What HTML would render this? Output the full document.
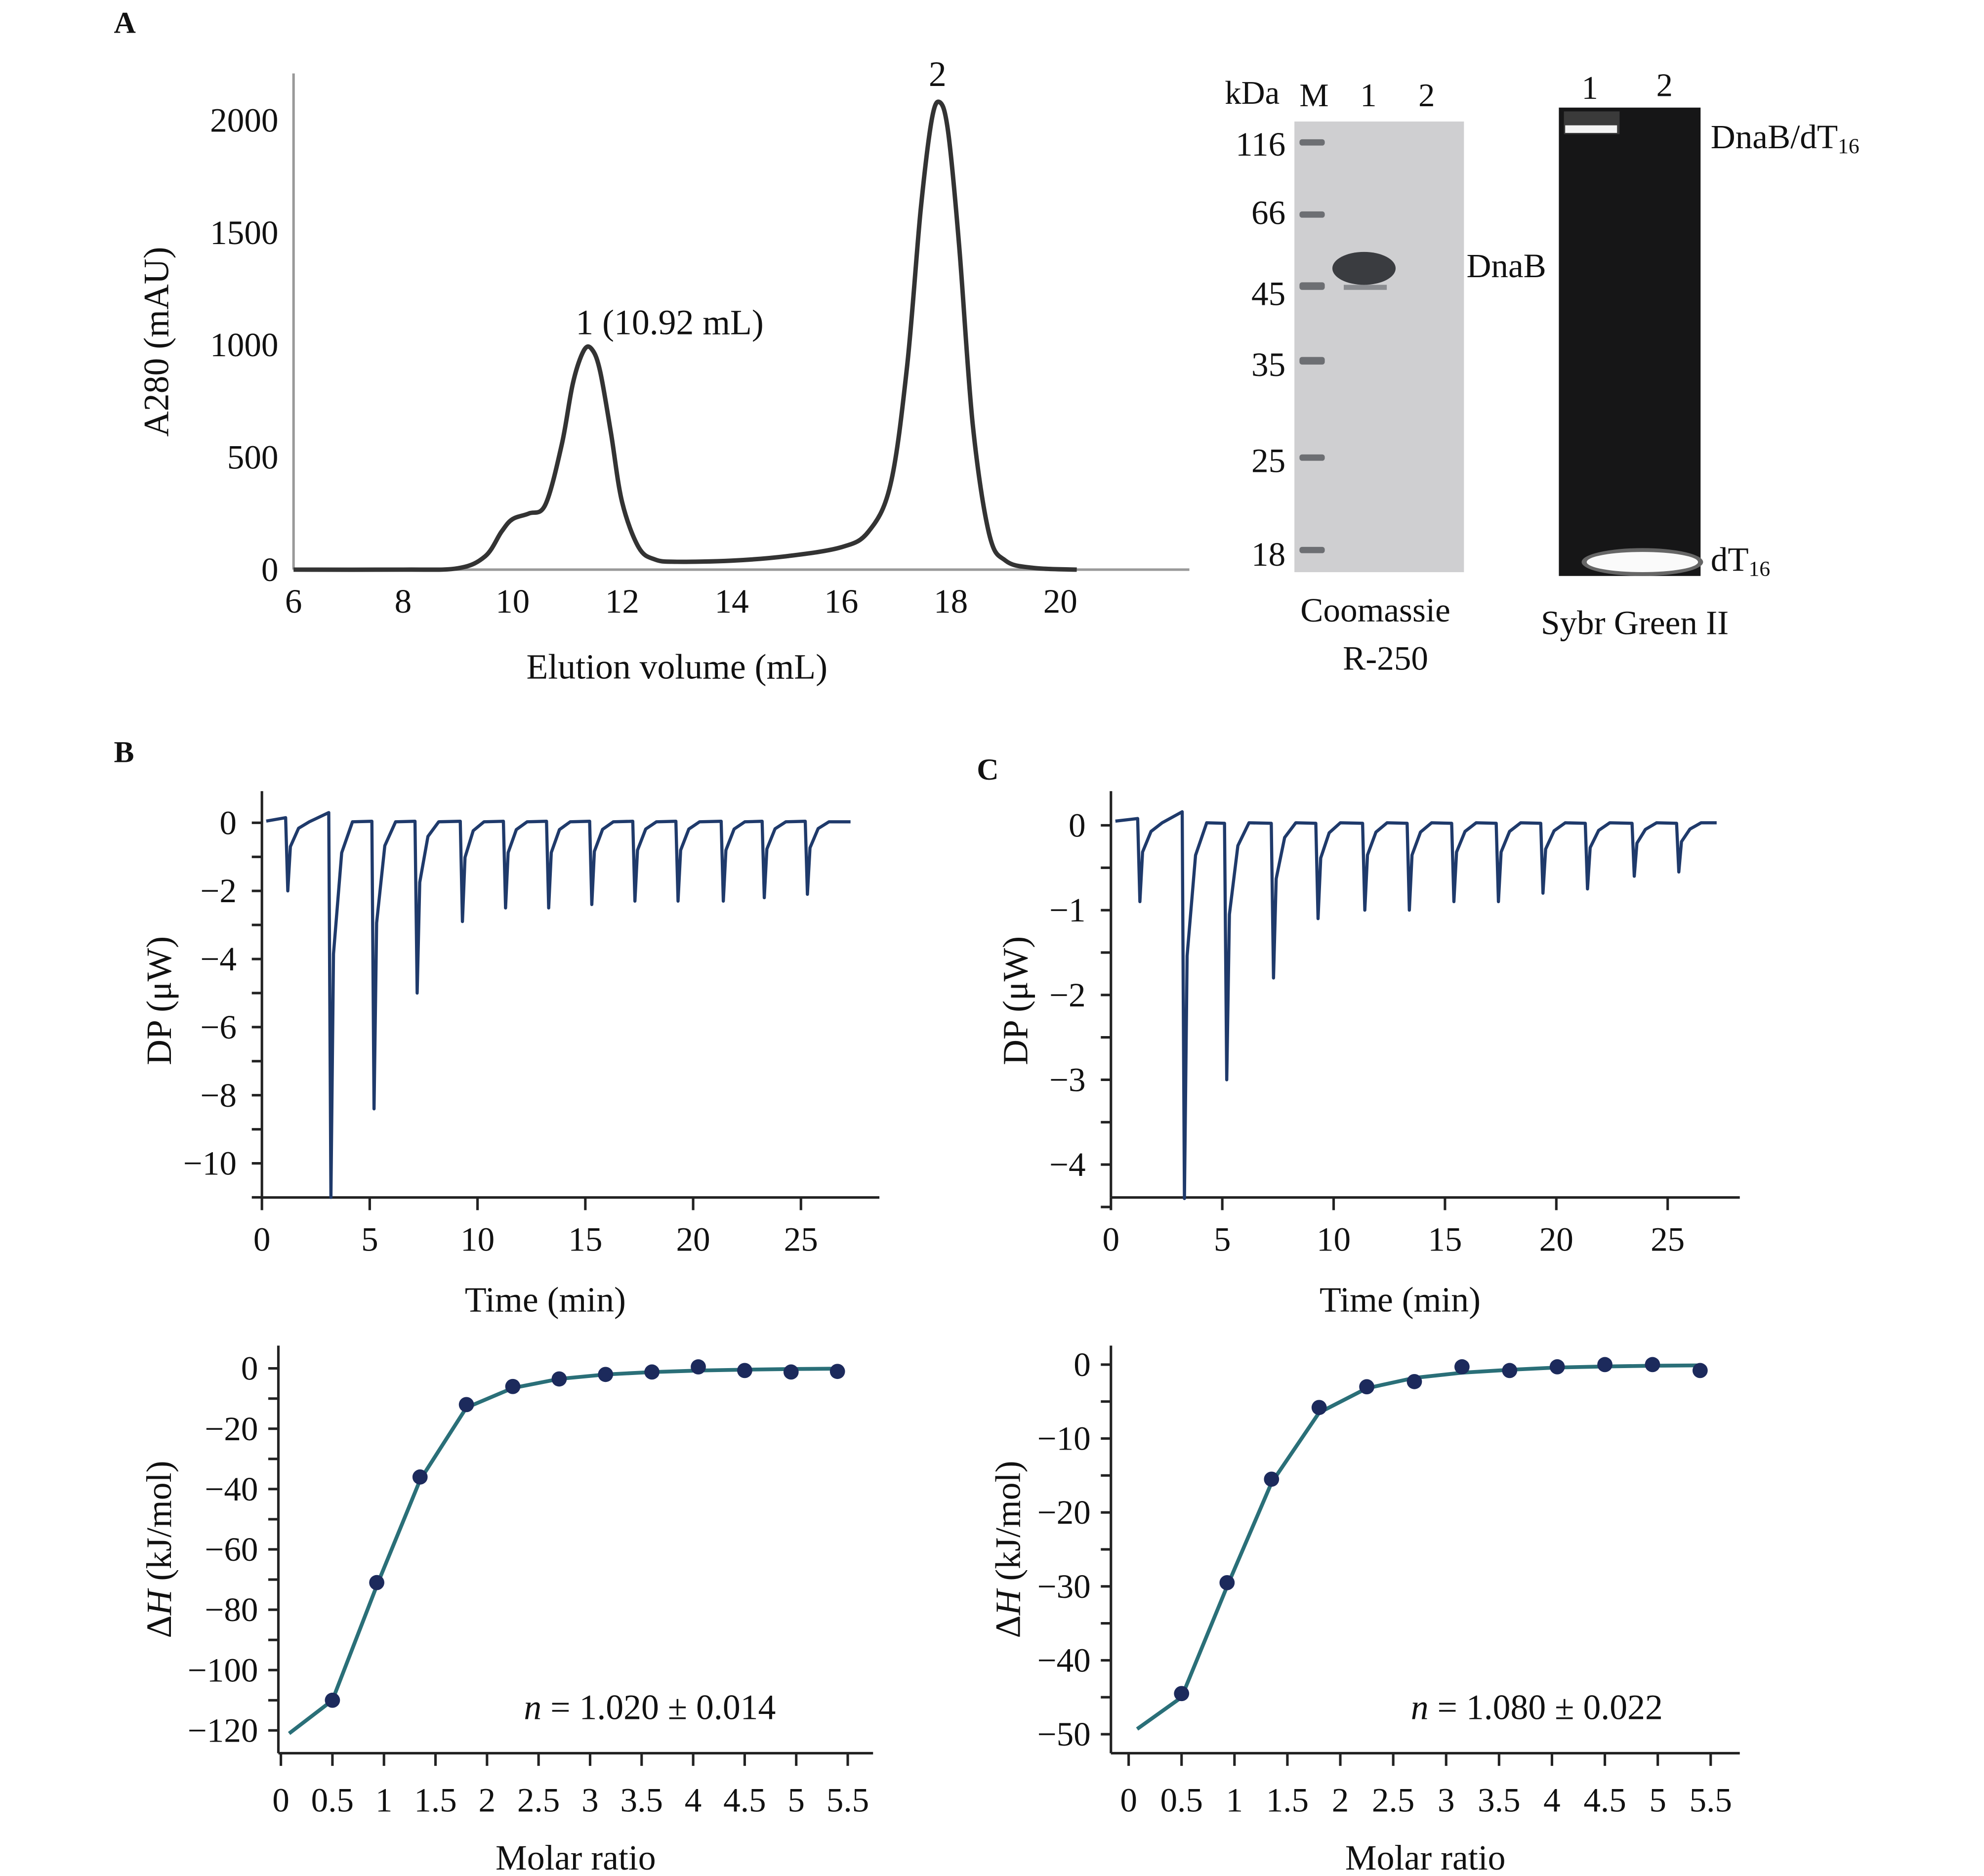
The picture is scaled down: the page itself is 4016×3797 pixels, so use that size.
<!DOCTYPE html>
<html><head><meta charset="utf-8"><style>
html,body{margin:0;padding:0;background:#fff;}
svg{display:block;}
text{font-family:"Liberation Serif",serif;fill:#111;}
</style></head><body>
<svg id="fig" width="4016" height="3797" viewBox="0 0 1568 1482" preserveAspectRatio="none" xmlns="http://www.w3.org/2000/svg">
<rect width="1568" height="1482" fill="#fff"/>
<text x="90" y="26" font-size="24" font-weight="bold">A</text>
<text x="90" y="602" font-size="24" font-weight="bold">B</text>
<text x="772" y="616" font-size="24" font-weight="bold">C</text>

<g>
<text x="968" y="82" font-size="26">kDa</text>
<text x="1027" y="84" font-size="26">M</text>
<text x="1075" y="84" font-size="26">1</text>
<text x="1121" y="84" font-size="26">2</text>
<rect x="1023" y="96" width="134" height="356" fill="#cfcfd1"/>
<g fill="#6d6f73">
<rect x="1027" y="110" width="20" height="5" rx="2"/><rect x="1027" y="167" width="20" height="5" rx="2"/>
<rect x="1027" y="223" width="20" height="6" rx="2"/><rect x="1027" y="282" width="20" height="6" rx="2"/>
<rect x="1027" y="359" width="20" height="5" rx="2"/><rect x="1027" y="432" width="20" height="5" rx="2"/>
</g>
<ellipse cx="1078" cy="212" rx="25" ry="13" fill="#3a3c40"/>
<rect x="1062" y="225" width="34" height="4" fill="#8a8c90"/>
<g font-size="27" text-anchor="end">
<text x="1016" y="123">116</text><text x="1016" y="177">66</text><text x="1016" y="241">45</text>
<text x="1016" y="297">35</text><text x="1016" y="373">25</text><text x="1016" y="447">18</text>
</g>
<text x="1159" y="219" font-size="27">DnaB</text>
<text x="1087" y="491" font-size="27" text-anchor="middle">Coomassie</text>
<text x="1095" y="529" font-size="27" text-anchor="middle">R-250</text>
</g>

<g>
<text x="1250" y="78" font-size="26">1</text><text x="1309" y="76" font-size="26">2</text>
<rect x="1232" y="85" width="112" height="370" fill="#161617"/>
<rect x="1236" y="88" width="44" height="18" fill="#3a3a3a"/>
<rect x="1237" y="99" width="41" height="6" fill="#f4f4f4"/>
<ellipse cx="1298" cy="444" rx="48" ry="11" fill="#666"/>
<ellipse cx="1298" cy="444" rx="44" ry="8" fill="#fafafa"/>
<text x="1352" y="117" font-size="27">DnaB/dT<tspan font-size="17" dy="4">16</tspan></text>
<text x="1352" y="451" font-size="27">dT<tspan font-size="17" dy="4">16</tspan></text>
<text x="1292" y="501" font-size="27" text-anchor="middle">Sybr Green II</text>
</g>
<g id="charts"></g>
</svg>
<script>
const secX=[6,8,9,9.5,9.8,10,10.3,10.6,10.9,11.1,11.3,11.45,11.6,11.8,12,12.3,12.6,13,14,15,16,16.5,16.9,17.2,17.45,17.65,17.8,17.95,18.15,18.4,18.7,19,19.5,20.3];
const secY=[0,0,6,60,170,225,250,290,560,830,975,980,880,600,300,100,45,35,40,60,100,170,380,900,1600,2000,2080,1950,1450,650,160,40,8,0];
const secXTicks=[6,8,10,12,14,16,18,20];
const secYTicks=[0,500,1000,1500,2000];

const bTimes=[1.2,3.2,5.2,7.2,9.3,11.3,13.3,15.3,17.3,19.3,21.4,23.3,25.3];
const bDepths=[-2,-11,-8.4,-5,-2.9,-2.5,-2.5,-2.4,-2.3,-2.3,-2.3,-2.2,-2.1];
const bXTicks=[0,5,10,15,20,25];
const bYTicks=[0,-2,-4,-6,-8,-10];

const cTimes=[1.3,3.3,5.2,7.3,9.3,11.4,13.4,15.4,17.4,19.4,21.4,23.5,25.5];
const cDepths=[-0.9,-4.4,-3,-1.8,-1.1,-1.0,-1.0,-0.9,-0.9,-0.8,-0.75,-0.6,-0.55];
const cXTicks=[0,5,10,15,20,25];
const cYTicks=[0,-1,-2,-3,-4];

const bRatio=[0.5,0.93,1.35,1.8,2.25,2.7,3.15,3.6,4.05,4.5,4.95,5.4];
const bHeat=[-110,-71,-36,-12,-6,-3.5,-2,-1.2,0.5,-0.7,-1.2,-1];
const bFitX=[0.08,0.5,0.93,1.35,1.8,2.25,2.7,3.15,3.6,4.05,4.5,4.95,5.4];
const bFitY=[-121,-110,-72,-37,-13,-6.5,-3.5,-2,-1.2,-0.7,-0.4,-0.2,-0.1];
const bRXTicks=[0,0.5,1,1.5,2,2.5,3,3.5,4,4.5,5,5.5];
const bRYTicks=[0,-20,-40,-60,-80,-100,-120];

const cRatio=[0.5,0.93,1.35,1.8,2.25,2.7,3.15,3.6,4.05,4.5,4.95,5.4];
const cHeat=[-44.5,-29.5,-15.5,-5.8,-3,-2.3,-0.3,-0.8,-0.3,0,0,-0.8];
const cFitX=[0.08,0.5,0.93,1.35,1.8,2.25,2.7,3.15,3.6,4.05,4.5,4.95,5.4];
const cFitY=[-49.3,-45,-30,-16,-6.5,-3.2,-1.8,-1.1,-0.7,-0.4,-0.25,-0.15,-0.1];
const cRXTicks=[0,0.5,1,1.5,2,2.5,3,3.5,4,4.5,5,5.5];
const cRYTicks=[0,-10,-20,-30,-40,-50];

const NS='http://www.w3.org/2000/svg';
const root=document.getElementById('charts');
const TF=27, TT=28;
function mk(tag,at,parent){const e=document.createElementNS(NS,tag);for(const k in at)e.setAttribute(k,at[k]);(parent||root).appendChild(e);return e;}
function txt(s,at,parent){const e=mk('text',at,parent);e.textContent=s;return e;}
function lin(d0,d1,r0,r1){return v=>r0+(v-d0)*(r1-r0)/(d1-d0);}
function fmt(v){return (v<0?'\u2212':'')+Math.abs(v);}
function smooth(pts){
  let d='M'+pts[0][0].toFixed(1)+','+pts[0][1].toFixed(1);
  for(let i=0;i<pts.length-1;i++){
    const p0=pts[Math.max(0,i-1)],p1=pts[i],p2=pts[i+1],p3=pts[Math.min(pts.length-1,i+2)];
    const c1=[p1[0]+(p2[0]-p0[0])/6,p1[1]+(p2[1]-p0[1])/6];
    const c2=[p2[0]-(p3[0]-p1[0])/6,p2[1]-(p3[1]-p1[1])/6];
    d+=' C'+c1[0].toFixed(1)+','+c1[1].toFixed(1)+' '+c2[0].toFixed(1)+','+c2[1].toFixed(1)+' '+p2[0].toFixed(1)+','+p2[1].toFixed(1);
  }
  return d;
}

function axes(g,o){
  const c=o.color||'#222';
  const ax=mk('line',{x1:o.x0,y1:o.yTop,x2:o.x0,y2:o.yBot,stroke:c,'stroke-width':2},g);
  
  const bx=mk('line',{x1:o.x0,y1:o.yBot,x2:o.x1,y2:o.yBot,stroke:c,'stroke-width':2},g);
  
  o.xt.forEach(v=>{const x=o.sx(v);
    if(o.xTickLen) mk('line',{x1:x,y1:o.yBot,x2:x,y2:o.yBot+o.xTickLen,stroke:c,'stroke-width':2},g);
    const t=txt(String(v),{x:x,y:o.yBot+o.xLabOff,'font-size':TF,'text-anchor':'middle'},g);
    });
  o.yt.forEach(v=>{const y=o.sy(v);
    const t=txt(fmt(v),{x:o.x0-o.yLabOff,y:y+9,'font-size':TF,'text-anchor':'end'},g);
    });
  (o.minorY||[]).forEach(v=>{const y=o.sy(v);mk('line',{x1:o.x0-8,y1:y,x2:o.x0,y2:y,stroke:c,'stroke-width':2},g);});
}

(function(){
  const g=mk('g',{});
  const sx=lin(6,20,232,838), sy=lin(0,2000,450,95);
  axes(g,{x0:232,x1:940,yTop:58,yBot:450,sx,sy,xt:secXTicks,yt:secYTicks,xLabOff:34,yLabOff:12,color:'#999'});
  const p=mk('path',{d:smooth(secX.map((x,i)=>[sx(x),sy(secY[i])])),fill:'none',stroke:'#333','stroke-width':3.5,'stroke-linejoin':'round'},g);
  
  txt('1 (10.92 mL)',{x:455,y:264,'font-size':TT},g);
  txt('2',{x:741,y:68,'font-size':TT,'text-anchor':'middle'},g);
  const yl=txt('A280 (mAU)',{x:0,y:0,'font-size':TT,'text-anchor':'middle',transform:'translate(133,270) rotate(-90)'},g);
  
  const xl=txt('Elution volume (mL)',{x:535,y:536,'font-size':TT,'text-anchor':'middle'},g);
  
})();

function raw(name,x0,x1,yTop,yBot,sx,sy,times,depths,xt,yt,minor,titleX,tEnd,bump){
  const g=mk('g',{});
  axes(g,{x0,x1,yTop,yBot,sx,sy,xt,yt,minorY:minor,xTickLen:10,xLabOff:42,yLabOff:20});
  let d='M'+sx(0.2)+','+sy(0.05);
  times.forEach((t,i)=>{
    const base=i<2?bump*(i+1):bump*0.3;
    d+=' L'+sx(t-0.1)+','+sy(base)+' L'+sx(t)+','+sy(depths[i])+' L'+sx(t+0.12)+','+sy(depths[i]*0.35)+' L'+sx(t+0.5)+','+sy(depths[i]*0.08)+' L'+sx(t+1)+','+sy(0.03);
  });
  d+=' L'+sx(tEnd)+','+sy(0.03);
  const p=mk('path',{d:d,fill:'none',stroke:'#1f3a6b','stroke-width':2.5,'stroke-linejoin':'round'},g);
  
  const yl=txt('DP (\u03bcW)',{x:0,y:0,'font-size':TT,'text-anchor':'middle',transform:'translate('+titleX+','+((yTop+yBot)/2+5)+') rotate(-90)'},g);
  
  const xl=txt('Time (min)',{x:(x0+x1)/2-20,y:yBot+90,'font-size':TT,'text-anchor':'middle'},g);
  
}
const bMinor=[];for(let v=0;v>=-11;v--)bMinor.push(v);
raw('itc-raw-b',207,695,625,946,lin(0,25,207,633),lin(0,-10,650,919),bTimes,bDepths,bXTicks,bYTicks,bMinor,135,27.3,0.15);
const cMinor=[];for(let v=0;v>=-4.5;v-=0.5)cMinor.push(v);
raw('itc-raw-c',878,1375,625,946,lin(0,25,878,1318),lin(0,-4,652,920),cTimes,cDepths,cXTicks,cYTicks,cMinor,812,27.2,0.08);

function integ(name,x0,x1,yTop,yBot,sx,sy,rx,hy,fx,fy,xt,yt,minor,titleX,nText,nX){
  const g=mk('g',{});
  axes(g,{x0,x1,yTop,yBot,sx,sy,xt,yt,minorY:minor,xTickLen:10,xLabOff:46,yLabOff:16});
  const d=fx.map((x,i)=>(i?'L':'M')+sx(x).toFixed(1)+','+sy(fy[i]).toFixed(1)).join(' ');
  const p=mk('path',{d:d,fill:'none',stroke:'#2a6f78','stroke-width':3},g);
  
  rx.forEach((x,i)=>{const c=mk('circle',{cx:sx(x),cy:sy(hy[i]),r:6,fill:'#1c2a5c'},g);
    });
  const yl=txt('',{x:0,y:0,'font-size':TT,'text-anchor':'middle',transform:'translate('+titleX+','+((yTop+yBot)/2)+') rotate(-90)'},g);
  yl.innerHTML='\u0394<tspan font-style="italic">H</tspan> (kJ/mol)';
  
  const xl=txt('Molar ratio',{x:(x0+x1)/2,y:yBot+92,'font-size':TT,'text-anchor':'middle'},g);
  
  const nt=txt('',{x:nX,y:1358,'font-size':TT},g);
  nt.innerHTML='<tspan font-style="italic">n</tspan> = '+nText;
  
}
const bRMinor=[];for(let v=0;v>=-125;v-=10)bRMinor.push(v);
integ('itc-fit-b',220,690,1063,1385,lin(0,5.5,222,670),lin(0,-120,1081,1367),bRatio,bHeat,bFitX,bFitY,bRXTicks,bRYTicks,bRMinor,135,'1.020 \u00b1 0.014',414);
const cRMinor=[];for(let v=0;v>=-52;v-=5)cRMinor.push(v);
integ('itc-fit-c',878,1375,1063,1385,lin(0,5.5,892,1352),lin(0,-50,1078,1370),cRatio,cHeat,cFitX,cFitY,cRXTicks,cRYTicks,cRMinor,806,'1.080 \u00b1 0.022',1115);
</script>
</body></html>
